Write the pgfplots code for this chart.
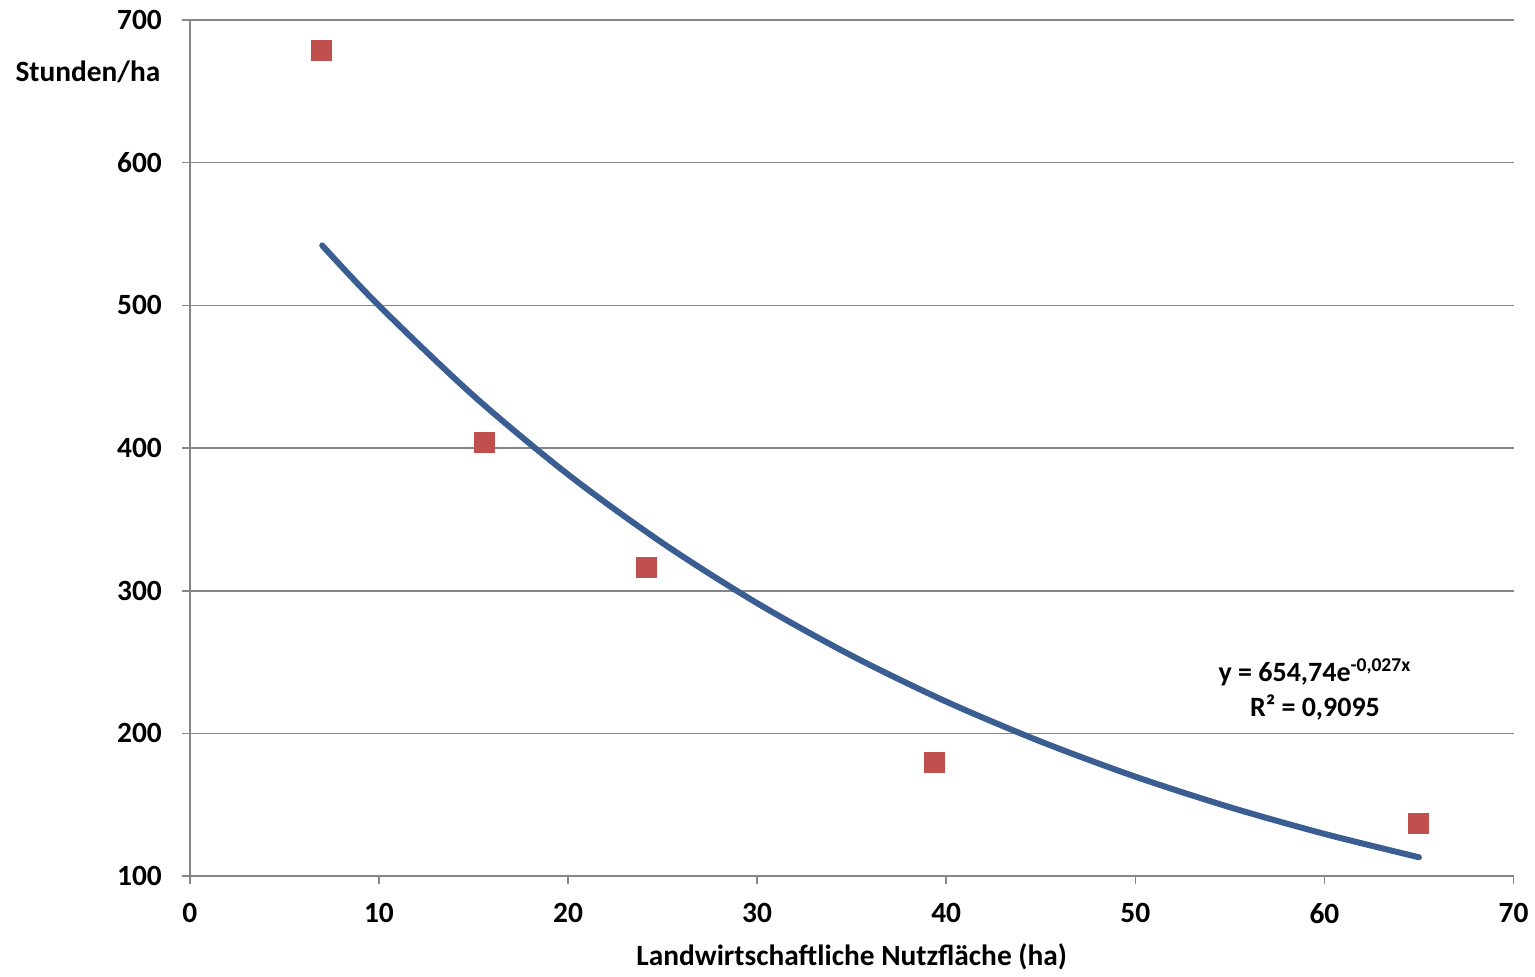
\documentclass[border=0pt]{standalone}
\usepackage{pgfplots}
\pgfplotsset{compat=1.18}
\usepackage{fontspec}
\setmainfont{Carlito}
\definecolor{mred}{RGB}{192,80,77}
\definecolor{tblue}{RGB}{58,94,145}
\definecolor{gridg}{RGB}{134,134,134}
\begin{document}
\begin{tikzpicture}[x=1bp,y=1bp]
\path (0,0) rectangle (767.5,487);
\begin{axis}[
  at={(95bp,48.5bp)}, anchor=origin,
  scale only axis, width=662.5bp, height=428.5bp,
  xmin=0, xmax=70, ymin=100, ymax=700,
  xtick={0,10,...,70}, ytick={100,200,...,700},
  axis x line*=bottom, axis y line*=left,
  axis line style={gridg, line width=0.8pt, -},
  tick style={gridg, line width=0.8pt},
  tick align=outside, major tick length=4bp,
  ymajorgrids, major grid style={gridg, line width=0.8pt},
  font=\fontsize{14.7bp}{17bp}\selectfont\bfseries,
  /pgf/number format/assume math mode=true,
  ticklabel style={font=\fontsize{14.7bp}{17bp}\selectfont\bfseries},
  yticklabel style={xshift=-6.5bp},
  xticklabel style={yshift=-6bp},
  xlabel={Landwirtschaftliche Nutzfläche (ha)},
  ylabel={Stunden/ha},
  xlabel style={at={(axis description cs:0.5,-0.0945)}, anchor=center},
  ylabel style={rotate=-90, at={(axis description cs:-0.077,0.939)}, anchor=center},
  clip=false,
]
\addplot[tblue, line width=3bp, smooth, line cap=round] coordinates {
(7,542.0) (10,499.8) (15,436.7) (20,381.5) (25,333.4) (30,291.3) (35,254.5)
(40,222.3) (45,194.3) (50,169.7) (55,148.3) (60,129.6) (65,113.2)};
\addplot[only marks, mark=square*, mark size=5bp, mred, mark options={fill=mred, draw=mred}] coordinates {
(6.97,679) (15.58,403.8) (24.14,316.3) (39.36,179.7) (64.98,137)};
\node[align=center, font=\fontsize{14bp}{17.5bp}\selectfont\bfseries] at (axis cs:59.5,231)
  {y = 654,74e\textsuperscript{-0,027x}\\R² = 0,9095};
\end{axis}
\end{tikzpicture}
\end{document}
